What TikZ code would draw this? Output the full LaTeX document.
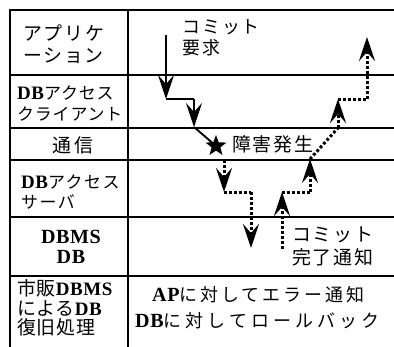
\documentclass[tikz,border=0pt]{standalone}
\usepackage{fontspec}
\setmainfont{Noto Sans CJK JP}
\newfontfamily\lat{Liberation Serif}[Scale=1.12, LetterSpace=3]
\usetikzlibrary{arrows.meta,shapes.geometric}
\newcommand\Jf[3]{\fontsize{#1}{#3}\selectfont\addfontfeature{LetterSpace=#2}}
\newcommand\La[1]{{\lat\bfseries #1}}
\tikzset{
  frame/.style={line width=1.8bp, line cap=rect},
  sol/.style={line width=1.9bp},
  dot/.style={line width=3bp, dash pattern=on 2.8bp off 2.2bp},
  arr/.style={-{Stealth[length=24bp,width=16bp,inset=9bp]}},
  lab/.style={inner sep=0pt, anchor=west, align=left},
  labc/.style={inner sep=0pt, anchor=center, align=center},
}
\begin{document}
\begin{tikzpicture}[x=1bp,y=-1bp]
\useasboundingbox (0,0) rectangle (394,347);
% frame
\coordinate (tl) at (10,10);
\coordinate (bl) at (10,347);
\coordinate (ct) at (128,10);
\coordinate (cb) at (128,347);
\coordinate (tr) at (394,10);
\draw[frame] (bl) -- (tl) -- (tr);
\draw[frame] (ct) -- (cb);
\foreach \y/\n in {75/r1,128/r2,160/r3,217/r4,276/r5}{
  \coordinate (\n a) at (10,\y);
  \coordinate (\n b) at (394,\y);
  \draw[frame] (\n a) -- (\n b);
}
% left column
\node[lab, font=\Jf{19}{9}{22}] (app) at (23,44) {アプリケ\\ーション};
\node[lab, font=\Jf{17}{5}{21}] (cli) at (17,103.5) {\La{DB}アクセス\\クライアント};
\node[lab, font=\Jf{19}{16}{21}] (com) at (52,145) {通信};
\node[lab, font=\Jf{17}{9}{20}] (srv) at (21,192) {\La{DB}アクセス\\サーバ};
\node[labc, font=\Jf{18}{0}{20}] (dbms) at (71,247) {\La{DBMS}\\\La{DB}};
\node[lab, font=\Jf{19}{4}{19.5}] (rec) at (17,308) {市販{\fontsize{17}{19.5}\selectfont\La{DBMS}}\\による{\fontsize{17}{19.5}\selectfont\La{DB}}\\復旧処理};
% right column texts
\node[lab, font=\Jf{18}{11}{21}] (req) at (182,37.5) {コミット\\要求};
\node[lab, font=\Jf{19}{9}{21}] (err) at (232,144) {障害発生};
\node[lab, font=\Jf{19}{9}{22.5}] (done) at (292,246.5) {コミット\\完了通知};
\node[lab, font=\Jf{18}{17}{21}] (ap) at (152,295) {\La{AP}に対してエラー通知};
\node[lab, font=\Jf{18}{23}{21}] (rb) at (135,321) {\La{DB}に対してロールバック};
% star
\node[star, star points=5, star point ratio=2.4, minimum size=22bp, fill=black, inner sep=0pt] (star) at (216,146) {};
% solid path
\coordinate (s0) at (166,35);
\coordinate (s1) at (166,99);
\coordinate (s2) at (194,99);
\coordinate (s3) at (194,127);
\draw[sol,arr] (s0) -- (s1);
\draw[sol] (s1) -- (s2);
\draw[sol,arr] (s2) -- (s3);
\draw[sol] (s3) -- (star.center);
% dotted down path
\coordinate (d0) at (224,160);
\coordinate (d1) at (224,192);
\coordinate (d2) at (251,192);
\coordinate (d3) at (251,248);
\draw[dot,arr] (d0) -- (d1);
\draw[dot] (d1) -- (d2);
\draw[dot,arr] (d2) -- (d3);
% dotted up path
\coordinate (u0) at (282,249);
\coordinate (u1) at (282,192);
\coordinate (u2) at (310,192);
\coordinate (u3) at (310,159);
\coordinate (u4) at (338,128);
\coordinate (u5) at (338,99);
\coordinate (u6) at (367,99);
\coordinate (u7) at (367,37);
\draw[dot,arr] (u0) -- (u1);
\draw[dot] (u1) -- (u2);
\draw[dot,arr] (u2) -- (u3);
\draw[dot] (u3) -- (u4);
\draw[dot,arr] (u4) -- (u5);
\draw[dot] (u5) -- (u6);
\draw[dot,arr] (u6) -- (u7);
\end{tikzpicture}
\end{document}
